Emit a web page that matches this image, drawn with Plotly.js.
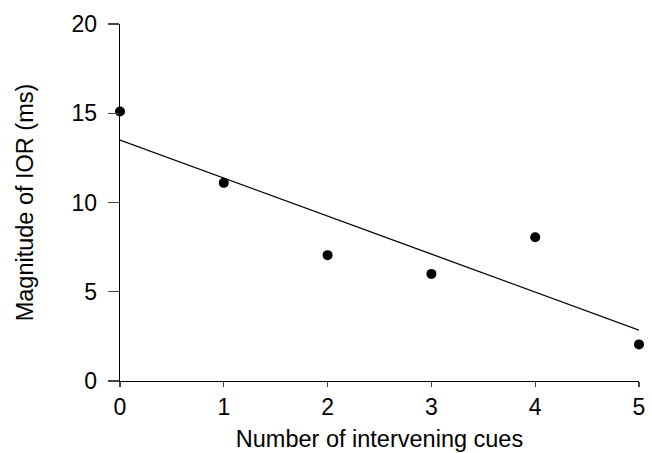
<!DOCTYPE html>
<html>
<head>
<meta charset="utf-8">
<script src="https://cdn.plot.ly/plotly-3.0.1.min.js"></script>
<style>html,body{margin:0;padding:0;background:#fff;}#chart{width:652px;height:453px;}</style>
</head>
<body>
<div id="chart"></div>
<script>
const cues = [0, 1, 2, 3, 4, 5];
const iorMs = [15.1, 11.1, 7.05, 6.0, 8.05, 2.05];
const fitX = [0, 5];
const fitY = [13.5, 2.85];
const xTickVals = [0, 1, 2, 3, 4, 5];
const yTickVals = [0, 5, 10, 15, 20];

const tickFont = {family: 'Liberation Sans, Arial, sans-serif', size: 23, color: '#000'};
const titleFont = {family: 'Liberation Sans, Arial, sans-serif', size: 23.5, color: '#000'};

const traces = [
  {x: fitX, y: fitY, mode: 'lines', line: {color: '#000', width: 1.3}, hoverinfo: 'skip', showlegend: false, cliponaxis: false},
  {x: cues, y: iorMs, mode: 'markers', marker: {color: '#000', size: 10}, showlegend: false, cliponaxis: false}
];

const layout = {
  width: 652, height: 453,
  margin: {l: 120, r: 13, t: 24, b: 72},
  paper_bgcolor: '#fff', plot_bgcolor: '#fff',
  font: tickFont,
  xaxis: {
    range: [0, 5], tickvals: xTickVals, ticks: 'outside', ticklen: 5, tickwidth: 1.3,
    showline: true, linewidth: 1.3, linecolor: '#000', showgrid: false, zeroline: false,
    tickfont: tickFont,
    title: {text: 'Number of intervening cues', font: titleFont, standoff: 11}
  },
  yaxis: {
    range: [0, 20], tickvals: yTickVals, ticks: 'outside', ticklen: 11, tickwidth: 1.3,
    showline: true, linewidth: 1.3, linecolor: '#000', showgrid: false, zeroline: false,
    tickfont: tickFont, ticklabelstandoff: 6,
    title: {text: 'Magnitude of IOR (ms)', font: titleFont, standoff: 31}
  }
};
Plotly.newPlot('chart', traces, layout, {displayModeBar: false, staticPlot: true});
</script>
</body>
</html>
